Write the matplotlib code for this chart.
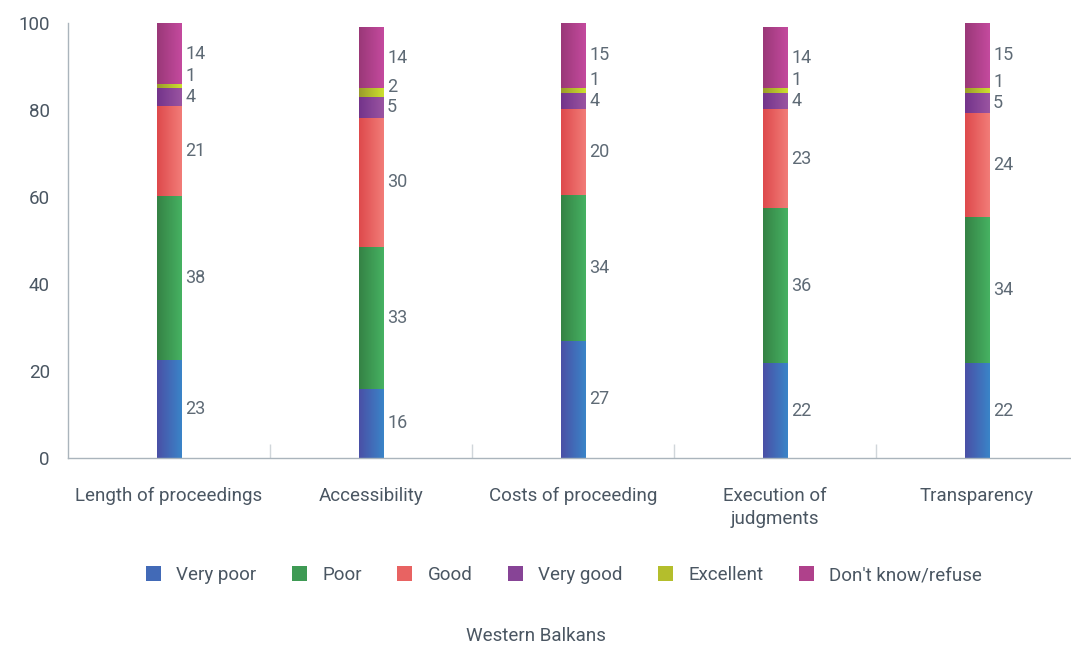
"""
Stacked bars: assessment of the judiciary, Western Balkans.
Bars get a left-to-right colour gradient like the original export.
"""
import numpy as np
import matplotlib
matplotlib.use("Agg")
import matplotlib.pyplot as plt
from matplotlib.colors import LinearSegmentedColormap
from matplotlib.patches import Patch

categories = ["Length of proceedings", "Accessibility", "Costs of proceeding",
              "Execution of\njudgments", "Transparency"]
series_names = ["Very poor", "Poor", "Good", "Very good", "Excellent", "Don't know/refuse"]

very_poor = [22.6, 15.9, 26.9, 21.8, 21.8]
poor = [37.6, 32.6, 33.6, 35.6, 33.6]
good = [20.8, 29.7, 19.7, 22.8, 23.9]
very_good = [4.0, 4.8, 3.7, 3.7, 4.6]
excellent = [0.9, 2.1, 1.2, 1.2, 1.2]
dont_know = [14.1, 13.8, 14.9, 13.8, 14.9]

# (left, right) colours of each gradient
gradients = [
    ("#4a50a6", "#3a84c8"),
    ("#358245", "#46b262"),
    ("#de4a4c", "#f27c78"),
    ("#73348a", "#9a54a2"),
    ("#9a9c2a", "#cde02e"),
    ("#9a3878", "#c44a9e"),
]

plt.rcParams["font.family"] = ["Roboto", "DejaVu Sans"]
label_grey = "#5e6a75"
tick_grey = "#4a5662"
axis_grey = "#aab4bc"
MIN_GAP = 4.8  # min vertical distance between value labels, in data units

fig = plt.figure(figsize=(10.71, 6.48), dpi=100)
ax = fig.add_axes([68 / 1071, 190 / 648, 1010 / 1071, 435 / 648])

x = np.arange(len(categories))
width = 0.12
data = [very_poor, poor, good, very_good, excellent, dont_know]
bottom = np.zeros(len(categories))
labels = [[] for _ in categories]  # per bar: (x, y, text)

for vals, (c0, c1) in zip(data, gradients):
    bars = ax.bar(x, vals, width, bottom=bottom, color="none", edgecolor="none", zorder=2)
    cmap = LinearSegmentedColormap.from_list("g", [c0, c1])
    grad = np.linspace(0, 1, 64).reshape(1, -1)
    for i, (b, v) in enumerate(zip(bars, vals)):
        x0, y0 = b.get_x(), b.get_y()
        ax.imshow(grad, cmap=cmap, aspect="auto", interpolation="bilinear",
                  extent=[x0, x0 + b.get_width(), y0, y0 + b.get_height()], zorder=2)
        labels[i].append([x0 + b.get_width() + 0.02, y0 + b.get_height() / 2, f"{v:.0f}"])
    bottom += np.array(vals)

# push crowded labels apart (bottom-up), like the original chart does
for bar_labels in labels:
    for j in range(1, len(bar_labels)):
        prev_y = bar_labels[j - 1][1]
        if bar_labels[j][1] - prev_y < MIN_GAP:
            bar_labels[j][1] = prev_y + MIN_GAP
    for lx, ly, txt in bar_labels:
        ax.text(lx, ly, txt, ha="left", va="center", fontsize=13,
                color=label_grey, zorder=3)

ax.set_xlim(-0.5, len(categories) - 0.5)
ax.set_ylim(0, 100)
ax.set_yticks(range(0, 101, 20))
ax.set_xticks(x)
ax.set_xticklabels(categories, fontsize=13.5, color=tick_grey, linespacing=1.35)
ax.set_xticks(np.arange(0.5, len(categories) - 1, 1), minor=True)
ax.tick_params(axis="x", which="major", length=0, pad=21)
ax.tick_params(axis="x", which="minor", direction="in", length=10, color="#d0d6da", width=1)
ax.tick_params(axis="y", length=0, pad=13, labelsize=13.5, labelcolor=tick_grey)

for side in ("top", "right"):
    ax.spines[side].set_visible(False)
for side in ("left", "bottom"):
    ax.spines[side].set_color(axis_grey)
    ax.spines[side].set_linewidth(1)

handles = [Patch(facecolor=LinearSegmentedColormap.from_list("g", [c0, c1])(0.5))
           for c0, c1 in gradients]
fig.legend(handles, series_names, loc="center", bbox_to_anchor=(564 / 1071, 1 - 575 / 648),
           ncol=6, frameon=False, fontsize=13.5, labelcolor=tick_grey,
           handlelength=0.8, handleheight=0.8, handletextpad=0.8, columnspacing=1.9)

fig.text(0.5, 1 - 636 / 648, "Western Balkans", ha="center", va="center",
         fontsize=13.5, color=tick_grey)

fig.savefig("out.png", dpi=100)
